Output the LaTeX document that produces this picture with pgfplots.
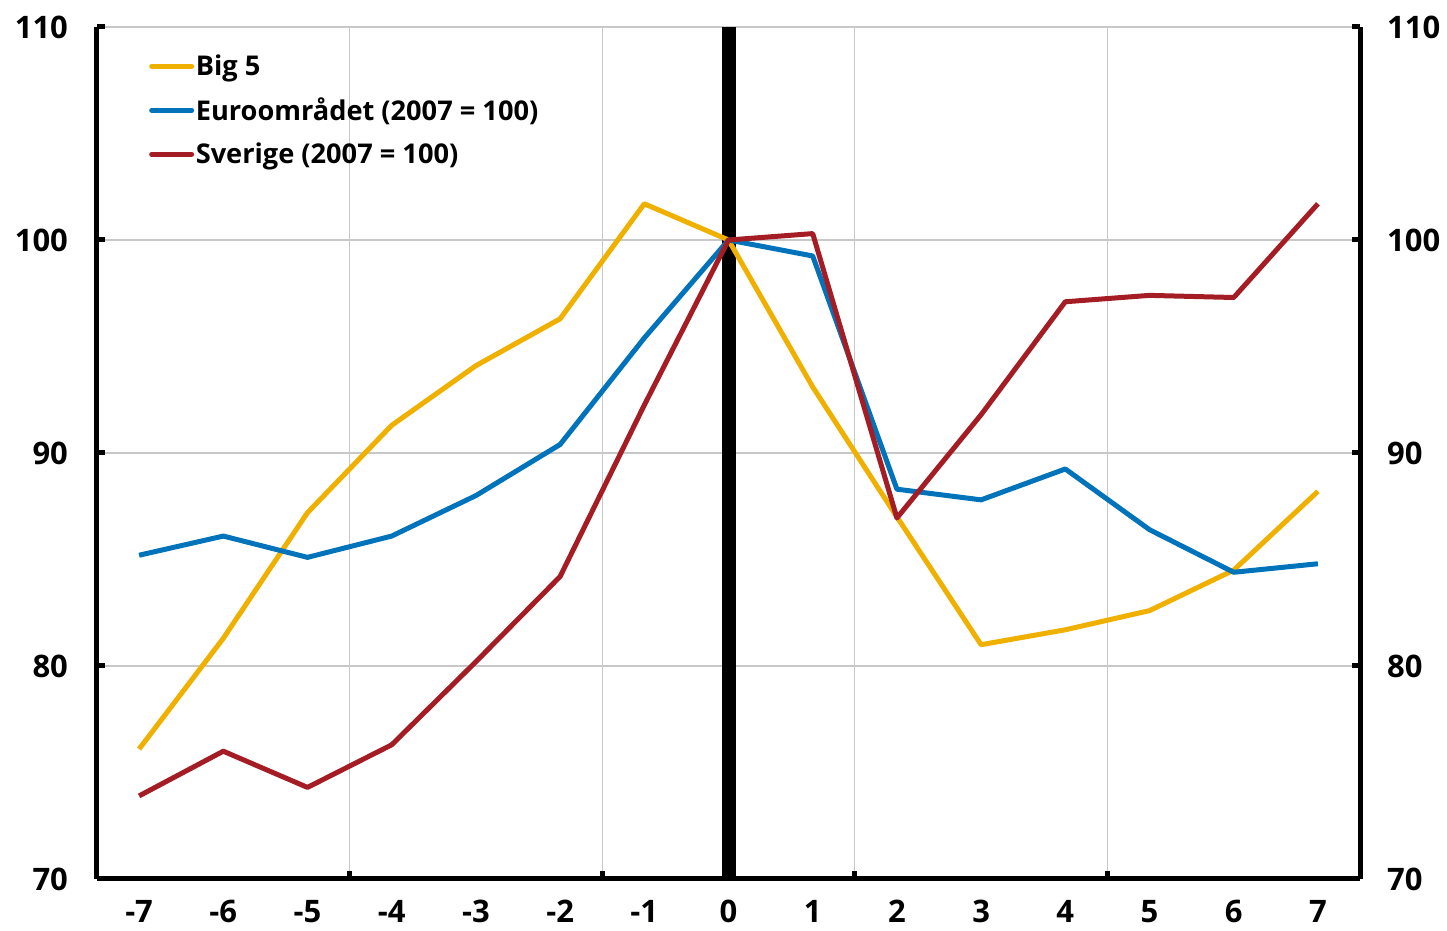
\documentclass[border=0pt]{standalone}
\usepackage{fontspec}
\setmainfont{Open Sans}
\usepackage{pgfplots}
\pgfplotsset{compat=1.18}
\definecolor{cyel}{RGB}{240,176,0}
\definecolor{cblu}{RGB}{0,115,186}
\definecolor{cred}{RGB}{164,29,36}
\definecolor{cgrid}{RGB}{200,200,200}
\newcommand{\tickfont}{\bfseries\fontsize{15.5}{18}\selectfont}
\begin{document}
\begin{tikzpicture}
\useasboundingbox (-48.5pt,-26pt) rectangle (675pt,439.5pt);
\begin{axis}[
  scale only axis, width=631.5pt, height=426pt,
  xmin=-7.5, xmax=7.5, ymin=70, ymax=110,
  axis lines*=left,
  axis line style={line width=2.5pt, black},
  tick align=inside,
  major tick length=4pt,
  tick style={line width=2.5pt, black},
  major grid style={cgrid, line width=0.6pt},
  xtick={-4.5,-1.5,1.5,4.5}, xticklabels={},
  xmajorgrids,
  extra x ticks={-7,-6,-5,-4,-3,-2,-1,0,1,2,3,4,5,6,7},
  extra x tick labels={-7,-6,-5,-4,-3,-2,-1,0,1,2,3,4,5,6,7},
  extra x tick style={grid=none, major tick length=0pt, tick label style={font=\tickfont, yshift=-7pt}},
  ytick={70,80,90,100,110}, yticklabels={70,80,90,100,110},
  yticklabel style={font=\tickfont, anchor=east, xshift=-11pt},
  ymajorgrids,
  legend style={at={(0.041,0.97)}, anchor=north west, draw=none, fill=none,
    font=\bfseries\fontsize{13.6}{16}\selectfont, row sep=8pt, inner sep=0pt,
    nodes={inner sep=0.8pt}},
  legend cell align=left,
  legend image code/.code={\draw[#1, line width=2.5pt, line cap=round] (0pt,0pt) -- (20pt,0pt);},
  every axis plot/.append style={line width=2.5pt, line join=round},
]
\addplot[black, line width=7pt, forget plot] coordinates {(0,70) (0,110)};
\addplot[cyel] coordinates {(-7,76.1) (-6,81.3) (-5,87.2) (-4,91.3) (-3,94.1) (-2,96.3) (-1,101.7) (0,100) (1,93.1) (2,87.0) (3,81.0) (4,81.7) (5,82.6) (6,84.5) (7,88.2)};
\addlegendentry{Big 5}
\addplot[cblu] coordinates {(-7,85.2) (-6,86.1) (-5,85.1) (-4,86.1) (-3,88.0) (-2,90.4) (-1,95.4) (0,100) (1,99.25) (2,88.3) (3,87.8) (4,89.25) (5,86.4) (6,84.4) (7,84.8)};
\addlegendentry{Euroområdet (2007 = 100)}
\addplot[cred] coordinates {(-7,73.9) (-6,76.0) (-5,74.3) (-4,76.3) (-3,80.2) (-2,84.2) (-1,92.25) (0,100) (1,100.3) (2,86.95) (3,91.8) (4,97.1) (5,97.4) (6,97.3) (7,101.7)};
\addlegendentry{Sverige (2007 = 100)}
\end{axis}
\begin{axis}[
  scale only axis, width=631.5pt, height=426pt,
  xmin=-7.5, xmax=7.5, ymin=70, ymax=110,
  axis y line*=right, axis x line=none,
  axis line style={line width=2.5pt, black},
  tick align=inside,
  major tick length=4pt,
  tick style={line width=2.5pt, black},
  ytick={70,80,90,100,110}, yticklabels={70,80,90,100,110},
  yticklabel style={font=\tickfont, anchor=west, xshift=10pt},
]
\addplot[draw=none] coordinates {(0,90)};
\end{axis}
\end{tikzpicture}
\end{document}
